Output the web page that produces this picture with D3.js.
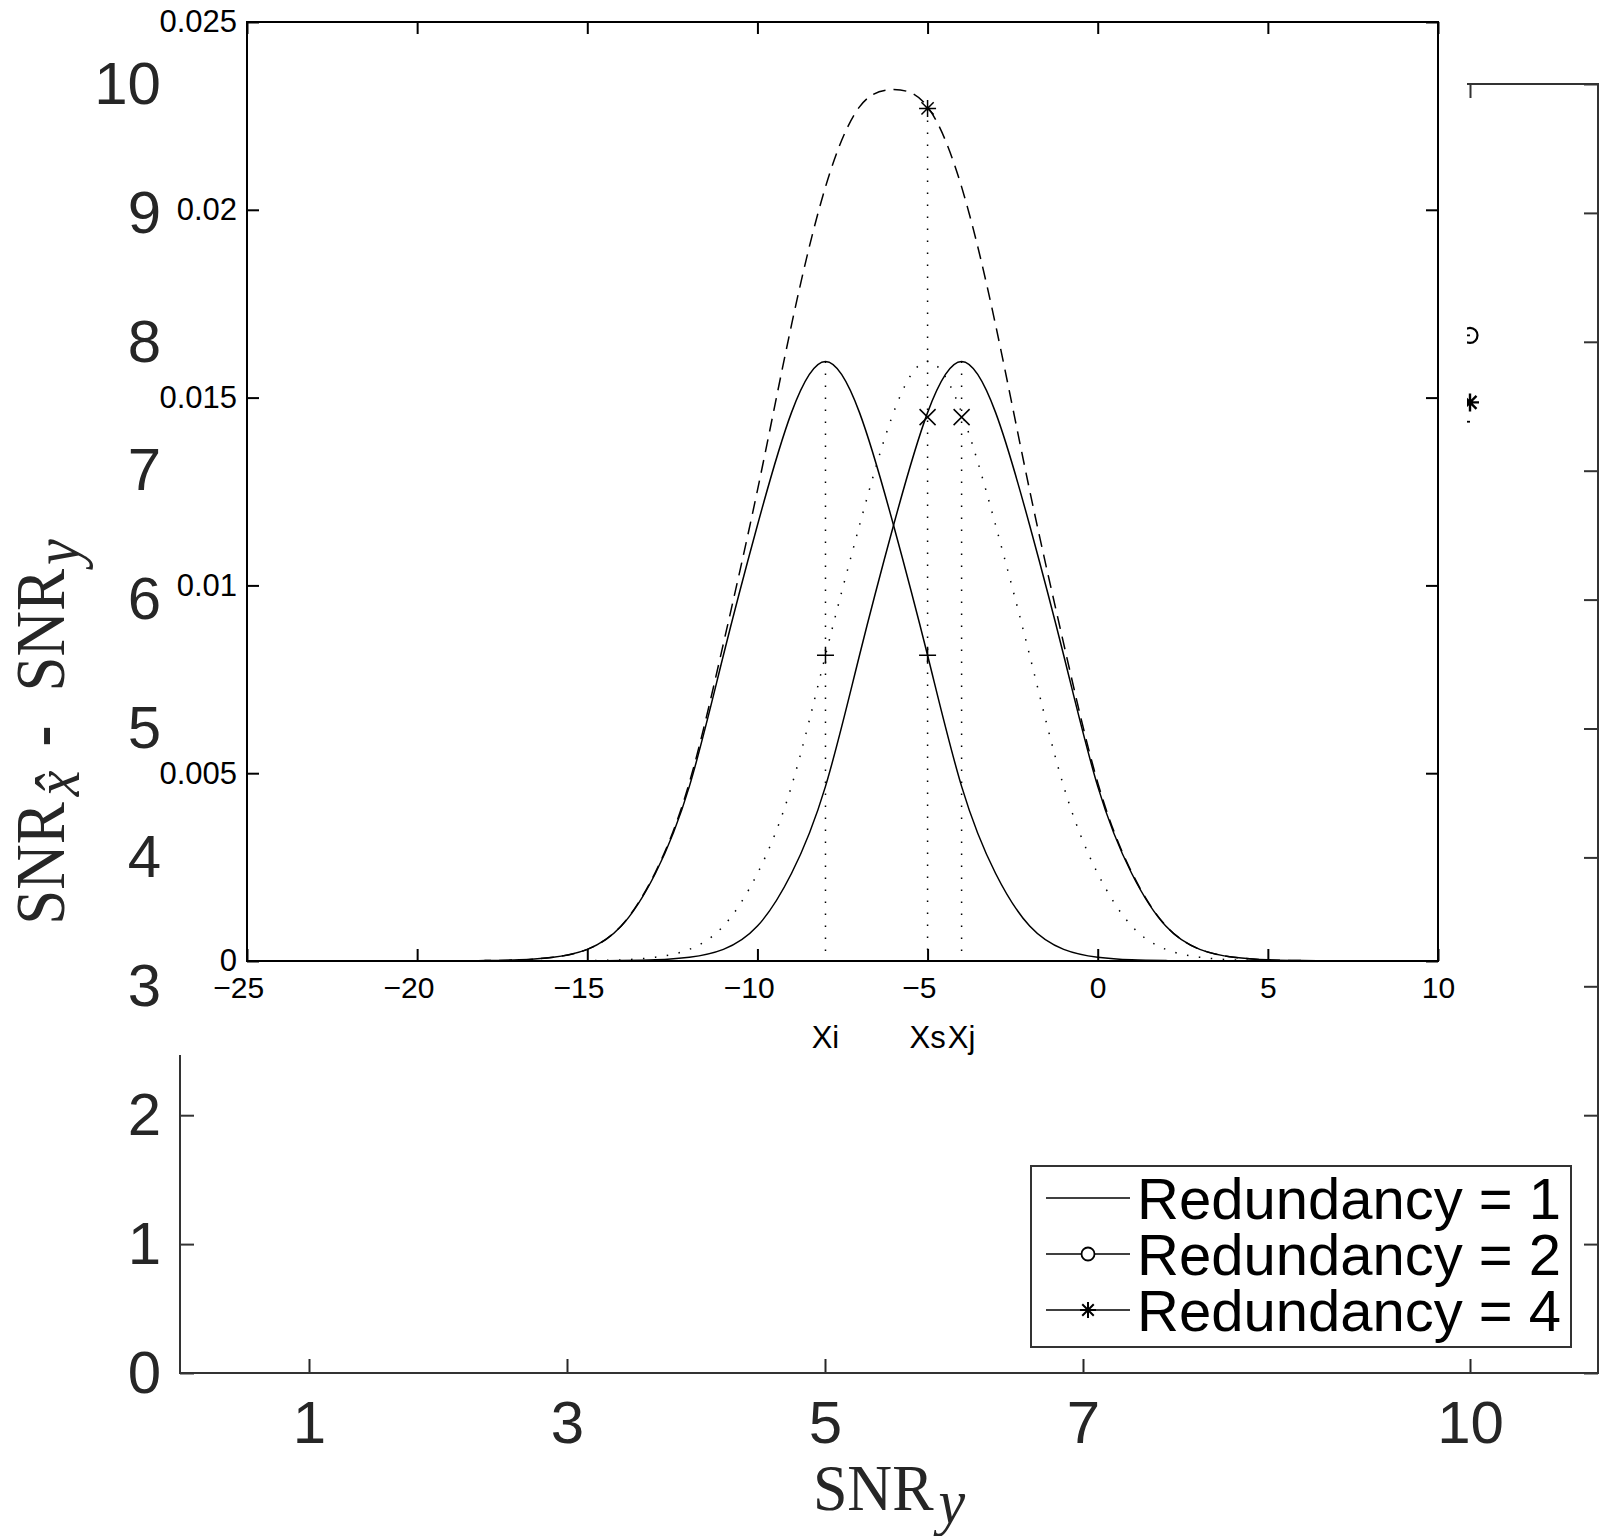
<!DOCTYPE html>
<html lang="en">
<head>
<meta charset="UTF-8">
<title>SNR gain with distribution inset</title>
<script src="https://cdn.jsdelivr.net/npm/d3@7"></script>
<style>
  body { margin: 0; background: #fff; }
  svg { display: block; }
</style>
</head>
<body>
<script>
// ---- background axes: SNR_y against SNR gain ----
const snrTicks = [1, 3, 5, 7, 10];
const gainTicks = [0, 1, 2, 3, 4, 5, 6, 7, 8, 9, 10];
// only the SNR_y = 10 end of each series is left uncovered by the inset
const seriesNames = ["Redundancy = 1", "Redundancy = 2", "Redundancy = 4"];
const seriesMarker = ["none", "circle", "star"];
const seriesSnr = [10, 10, 10];
const seriesGain = [7.38, 8.05, 7.53];

// ---- inset: distributions ----
const gridX = [-25, -24, -23, -22, -21, -20, -19, -18, -17, -16, -15, -14, -13, -12, -11, -10, -9, -8,
  -7, -6, -5, -4, -3, -2, -1, 0, 1, 2, 3, 4, 5, 6, 7, 8, 9, 10];
const pdfXi = [0, 0, 0, 0, 0, 0, 0, 0.00001, 0.00003, 0.00010, 0.00031, 0.00093, 0.00233, 0.00465, 0.00814,
  0.01160, 0.01460, 0.01596, 0.01460, 0.01160, 0.00814, 0.00465, 0.00233, 0.00093, 0.00031, 0.00010,
  0.00003, 0.00001, 0, 0, 0, 0, 0, 0, 0, 0];
const pdfXj = [0, 0, 0, 0, 0, 0, 0, 0, 0, 0, 0, 0.00001, 0.00003, 0.00010, 0.00031, 0.00093, 0.00233,
  0.00465, 0.00814, 0.01160, 0.01460, 0.01596, 0.01460, 0.01160, 0.00814, 0.00465, 0.00233, 0.00093,
  0.00031, 0.00010, 0.00003, 0.00001, 0, 0, 0, 0];
const pdfXs = [0, 0, 0, 0, 0, 0, 0, 0, 0, 0, 0.00001, 0.00003, 0.00010, 0.00031, 0.00093, 0.00233,
  0.00465, 0.00814, 0.01160, 0.01460, 0.01596, 0.01460, 0.01160, 0.00814, 0.00465, 0.00233, 0.00093,
  0.00031, 0.00010, 0.00003, 0.00001, 0, 0, 0, 0, 0];
const pdfSum = [0, 0, 0, 0, 0, 0, 0, 0.00001, 0.00003, 0.00010, 0.00031, 0.00094, 0.00236, 0.00475,
  0.00845, 0.01253, 0.01693, 0.02061, 0.02274, 0.02320, 0.02274, 0.02061, 0.01693, 0.01253, 0.00845,
  0.00475, 0.00236, 0.00094, 0.00031, 0.00010, 0.00003, 0.00001, 0, 0, 0, 0];

const insetXTicks = [-25, -20, -15, -10, -5, 0, 5, 10];
const insetYTicks = [0, 0.005, 0.01, 0.015, 0.02, 0.025];
const insetYLabels = ["0", "0.005", "0.01", "0.015", "0.02", "0.025"];

const markX = [-8, -5, -4];
const markLabel = ["Xi", "Xs", "Xj"];
const markTop = [0.01596, 0.0227, 0.01596];
const plusX = [-8, -5], plusY = [0.00814, 0.00814];
const crossX = [-5, -4], crossY = [0.01448, 0.01448];
const starX = [-5], starY = [0.0227];

const SANS = "'Liberation Sans', Arial, Helvetica, sans-serif";
const SERIF = "'Liberation Serif', 'Times New Roman', serif";

const markerPath = {
  plus: s => `M${-s},0H${s}M0,${-s}V${s}`,
  cross: s => `M${-s},${-s}L${s},${s}M${-s},${s}L${s},${-s}`,
  star: s => {
    const a = s * 0.72;
    return `M${-s},0H${s}M0,${-s}V${s}M${-a},${-a}L${a},${a}M${-a},${a}L${a},${-a}`;
  }
};

const styleAxis = (g, color) => {
  g.select(".domain").remove();
  g.selectAll(".tick line").attr("stroke", color).attr("stroke-width", 2);
  g.selectAll(".tick text").attr("fill", color);
};

const svg = d3.select("body").append("svg")
  .attr("width", 1599)
  .attr("height", 1536);

// ===== background axes =====
const bx = d3.scaleLinear().domain([0, 11]).range([180, 1599]);
const by = d3.scaleLinear().domain([0, 10]).range([1373, 84]);
const back = svg.append("g");
const axisGrey = "#333";

back.append("g")
  .attr("transform", `translate(0,${by(0)})`)
  .call(d3.axisBottom(bx).tickValues(snrTicks).tickSizeInner(-14).tickSizeOuter(0).tickPadding(27))
  .attr("font-family", SANS).attr("font-size", 60)
  .call(g => styleAxis(g, "#262626"));

back.append("g")
  .attr("transform", `translate(0,${by(10)})`)
  .call(d3.axisTop(bx).tickValues(snrTicks).tickSizeInner(-14).tickSizeOuter(0).tickFormat(""))
  .call(g => styleAxis(g, axisGrey));

back.append("g")
  .attr("transform", `translate(${bx(0)},0)`)
  .call(d3.axisLeft(by).tickValues(gainTicks).tickSizeInner(-14).tickSizeOuter(0).tickFormat(""))
  .call(g => styleAxis(g, axisGrey));

back.append("g")
  .attr("transform", `translate(1598,0)`)
  .call(d3.axisRight(by).tickValues(gainTicks).tickSizeInner(-14).tickSizeOuter(0).tickFormat(""))
  .call(g => styleAxis(g, axisGrey));

back.append("path")
  .attr("d", `M${bx(0)},${by(10)}H1598V${by(0)}H${bx(0)}Z`)
  .attr("fill", "none").attr("stroke", axisGrey).attr("stroke-width", 2);

// series ends at SNR_y = 10
seriesSnr.forEach((s, i) => {
  back.append("line")
    .attr("x1", bx(s) - 20).attr("x2", bx(s))
    .attr("y1", by(seriesGain[i])).attr("y2", by(seriesGain[i]))
    .attr("stroke", "#000").attr("stroke-width", 1.8);
  if (seriesMarker[i] === "circle") {
    back.append("circle").attr("cx", bx(s)).attr("cy", by(seriesGain[i])).attr("r", 7.5)
      .attr("fill", "none").attr("stroke", "#000").attr("stroke-width", 2.2);
  } else if (seriesMarker[i] === "star") {
    back.append("path").attr("transform", `translate(${bx(s)},${by(seriesGain[i])})`)
      .attr("d", markerPath.star(9)).attr("fill", "none").attr("stroke", "#000").attr("stroke-width", 2.4);
  }
});

// white area behind the inset
svg.append("rect")
  .attr("x", 170).attr("y", 0)
  .attr("width", 1467 - 170).attr("height", 1055)
  .attr("fill", "#fff");

// left tick labels stay on top
svg.append("g")
  .attr("transform", `translate(${bx(0)},0)`)
  .call(d3.axisLeft(by).tickValues(gainTicks).tickSize(0).tickPadding(19))
  .attr("font-family", SANS).attr("font-size", 60)
  .call(g => { g.select(".domain").remove(); g.selectAll(".tick line").remove(); })
  .selectAll(".tick text").attr("fill", "#262626");

// axis titles
const yTitle = svg.append("text")
  .attr("font-family", SERIF).attr("font-size", 63).attr("fill", "#262626")
  .attr("text-anchor", "middle")
  .attr("transform", "translate(64,732) rotate(-90) scale(1,1.12)");
yTitle.append("tspan").text("SNR");
yTitle.append("tspan").attr("font-size", 58).attr("font-style", "italic")
  .attr("dx", 6).attr("dy", 13).text("x\u0302");
yTitle.append("tspan").attr("dx", 24).attr("dy", -13).attr("font-weight", "bold").text("-");
yTitle.append("tspan").attr("dx", 34).text("SNR");
yTitle.append("tspan").attr("font-size", 58).attr("font-style", "italic")
  .attr("dx", 4).attr("dy", 13).text("y");

const xTitle = svg.append("text")
  .attr("font-family", SERIF).attr("font-size", 62).attr("fill", "#262626")
  .attr("text-anchor", "middle")
  .attr("transform", `translate(${(bx(0) + 1598) / 2},1510) scale(1,1.07)`);
xTitle.append("tspan").text("SNR");
xTitle.append("tspan").attr("font-size", 60).attr("font-style", "italic")
  .attr("dx", 5).attr("dy", 12).text("y");

// ===== inset =====
const ix = d3.scaleLinear().domain([-25, 10]).range([247, 1438]);
const iy = d3.scaleLinear().domain([0, 0.025]).range([961, 22]);
const inset = svg.append("g");

inset.append("g")
  .attr("transform", `translate(0,${iy(0)})`)
  .call(d3.axisBottom(ix).tickValues(insetXTicks).tickSizeInner(-12).tickSizeOuter(0).tickPadding(16)
    .tickFormat(d => d < 0 ? "\u2212" + Math.abs(d) : String(d)))
  .attr("font-family", SANS).attr("font-size", 30)
  .call(g => styleAxis(g, "#000"))
  .selectAll(".tick text")
  .attr("dx", d => d < 0 ? -0.292 * 30 : 0);

inset.append("g")
  .attr("transform", `translate(0,${iy(0.025)})`)
  .call(d3.axisTop(ix).tickValues(insetXTicks).tickSizeInner(-12).tickSizeOuter(0).tickFormat(""))
  .call(g => styleAxis(g, "#000"));

inset.append("g")
  .attr("transform", `translate(${ix(-25)},0)`)
  .call(d3.axisLeft(iy).tickValues(insetYTicks).tickSizeInner(-12).tickSizeOuter(0).tickPadding(10)
    .tickFormat((d, i) => insetYLabels[i]))
  .attr("font-family", SANS).attr("font-size", 31)
  .call(g => styleAxis(g, "#000"));

inset.append("g")
  .attr("transform", `translate(${ix(10)},0)`)
  .call(d3.axisRight(iy).tickValues(insetYTicks).tickSizeInner(-12).tickSizeOuter(0).tickFormat(""))
  .call(g => styleAxis(g, "#000"));

inset.append("rect")
  .attr("x", ix(-25)).attr("y", iy(0.025))
  .attr("width", ix(10) - ix(-25)).attr("height", iy(0) - iy(0.025))
  .attr("fill", "none").attr("stroke", "#000").attr("stroke-width", 2);

const curve = d3.line()
  .x((d, i) => ix(gridX[i]))
  .y(d => iy(d))
  .curve(d3.curveNatural);

const curves = [
  { values: pdfXi, dash: null },
  { values: pdfXj, dash: null },
  { values: pdfXs, dash: "1.5 10.5" },
  { values: pdfSum, dash: "13 8" }
];
const clip = inset.append("clipPath").attr("id", "inset-clip")
  .append("rect")
  .attr("x", ix(-25)).attr("y", iy(0.025))
  .attr("width", ix(10) - ix(-25)).attr("height", iy(0) - iy(0.025));
curves.forEach(c => {
  inset.append("path")
    .attr("d", curve(c.values))
    .attr("clip-path", "url(#inset-clip)")
    .attr("fill", "none")
    .attr("stroke", "#000")
    .attr("stroke-width", 1.5)
    .attr("stroke-dasharray", c.dash);
});

// vertical guides and their labels
markX.forEach((m, i) => {
  inset.append("line")
    .attr("x1", ix(m)).attr("x2", ix(m))
    .attr("y1", iy(markTop[i])).attr("y2", iy(0))
    .attr("stroke", "#000").attr("stroke-width", 1.5)
    .attr("stroke-dasharray", "1.5 10.5");
  inset.append("text")
    .attr("x", ix(m)).attr("y", 1048)
    .attr("text-anchor", "middle")
    .attr("font-family", SANS).attr("font-size", 31)
    .text(markLabel[i]);
});

const drawMarkers = (xs, ys, kind, size) => {
  xs.forEach((m, i) => {
    inset.append("path")
      .attr("transform", `translate(${ix(m)},${iy(ys[i])})`)
      .attr("d", markerPath[kind](size))
      .attr("fill", "none").attr("stroke", "#000").attr("stroke-width", 1.5);
  });
};
drawMarkers(plusX, plusY, "plus", 8.5);
drawMarkers(crossX, crossY, "cross", 8);
drawMarkers(starX, starY, "star", 8.5);

// ===== legend =====
const legend = svg.append("g").attr("transform", "translate(1031,1166)");
legend.append("rect")
  .attr("width", 540).attr("height", 181)
  .attr("fill", "#fff").attr("stroke", axisGrey).attr("stroke-width", 2);

seriesNames.forEach((name, i) => {
  const row = legend.append("g").attr("transform", `translate(0,${32 + i * 56})`);
  row.append("line").attr("x1", 15).attr("x2", 99)
    .attr("stroke", "#000").attr("stroke-width", 1.5);
  if (seriesMarker[i] === "circle") {
    row.append("circle").attr("cx", 57).attr("r", 6.5)
      .attr("fill", "#fff").attr("stroke", "#000").attr("stroke-width", 1.8);
  } else if (seriesMarker[i] === "star") {
    row.append("path").attr("transform", "translate(57,0)")
      .attr("d", markerPath.star(8)).attr("fill", "none").attr("stroke", "#000").attr("stroke-width", 2);
  }
  row.append("text")
    .attr("x", 106).attr("dy", "0.36em")
    .attr("font-family", SANS).attr("font-size", 58)
    .text(name);
});
</script>
</body>
</html>
